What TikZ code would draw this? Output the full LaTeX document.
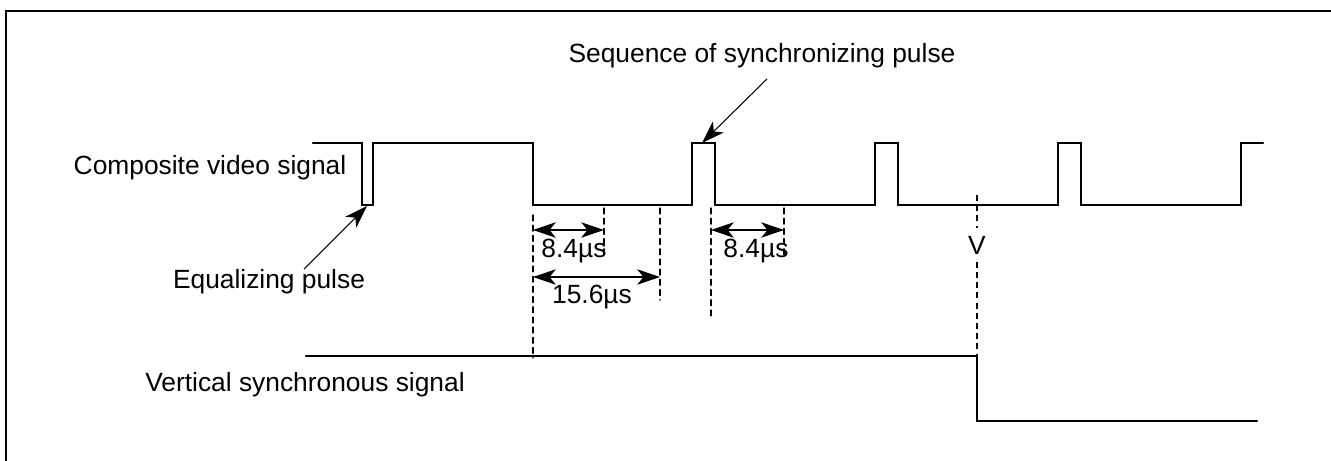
\documentclass[tikz,border=0pt]{standalone}
\usepackage{fontspec}
\setmainfont{Liberation Sans}
\usepackage{tkz-euclide}
\usetikzlibrary{arrows.meta}

\begin{document}
\begin{tikzpicture}[x=0.1mm, y=-0.1mm,
	font=\fontsize{7.5}{9}\selectfont,
	wave/.style={line width=0.6pt, line join=miter},
	dimline/.style={line width=0.3pt, dash pattern=on 1.7pt off 1.2pt},
	dimarrow/.style={line width=0.3pt, {Stealth[length=6.5pt,width=4.4pt,inset=1.8pt]}-{Stealth[length=6.5pt,width=4.4pt,inset=1.8pt]}},
	leader/.style={line width=0.3pt, -{Stealth[length=6.5pt,width=4.4pt,inset=1.8pt]}},
	tag/.style={inner sep=0pt}]
	\useasboundingbox (0,0) rectangle (1331,461);
	
	\tkzDefPoints{6/461/F1, 6/11/F2, 1331/11/F3}
	\tkzDrawPolySeg[line width=0.6pt](F1,F2,F3)
	
	\tkzDefPoints{313/143/S0, 362/143/S1, 362/205/S2, 373/205/S3, 373/143/S4, 533/143/S5, 533/205/S6, 692/205/S7, 692/143/S8, 715/143/S9, 715/205/S10}
	\tkzDefPoints{875/205/S11, 875/143/S12, 898/143/S13, 898/205/S14, 1058/205/S15, 1058/143/S16, 1081/143/S17, 1081/205/S18, 1241/205/S19, 1241/143/S20, 1263/143/S21}
	\tkzDrawPolySeg[wave](S0,S1,S2,S3,S4,S5,S6,S7,S8,S9,S10,S11,S12,S13,S14,S15,S16,S17,S18,S19,S20,S21)
	
	\tkzDefPoints{306/356/T0, 977/356/T1, 977/421/T2, 1257/421/T3}
	\tkzDrawPolySeg[wave](T0,T1,T2,T3)
	
	\tkzDefPoints{533/215/G1, 533/358/H1, 604/208/G2, 604/258/H2, 660/208/G3, 660/300/H3, 711/208/G4, 711/317/H4, 784/208/G5, 784/258/H5}
	\tkzDrawSegments[dimline](G1,H1 G2,H2 G3,H3 G4,H4 G5,H5)
	
	\tkzDefPoints{533/230/L1, 604/230/R1, 533/277/L2, 660/277/R2, 711/230/L3, 784/230/R3}
	\tkzDrawSegments[dimarrow](L1,R1 L2,R2 L3,R3)
	
	\node[tag] (dlab1) at (574,251) {8.4µs};
	\node[tag] (dlab2) at (592,297) {15.6µs};
	\node[tag] (dlab3) at (756,251) {8.4µs};
	
	\tkzDefPoints{977/195/V0, 977/354/V1}
	\node[inner sep=2pt] (vlab) at (977,245) {V};
	\draw[dimline] (V0) -- (vlab);
	\draw[dimline] (vlab) -- (V1);
	
	\node[tag] (complab) at (210,168) {Composite video signal};
	\node[tag] (eqlab) at (269,282) {Equalizing pulse};
	\node[tag] (seqlab) at (762,56) {Sequence of synchronizing pulse};
	\node[tag] (vertlab) at (305,385) {Vertical synchronous signal};
	
	\tkzDefPoints{367/206/E1, 702/143/Q1}
	\draw[leader] ([xshift=3.5mm]eqlab.north) -- (E1);
	\draw[leader] ([xshift=0.5mm,yshift=-1mm]seqlab.south) -- (Q1);
\end{tikzpicture}
\end{document}
